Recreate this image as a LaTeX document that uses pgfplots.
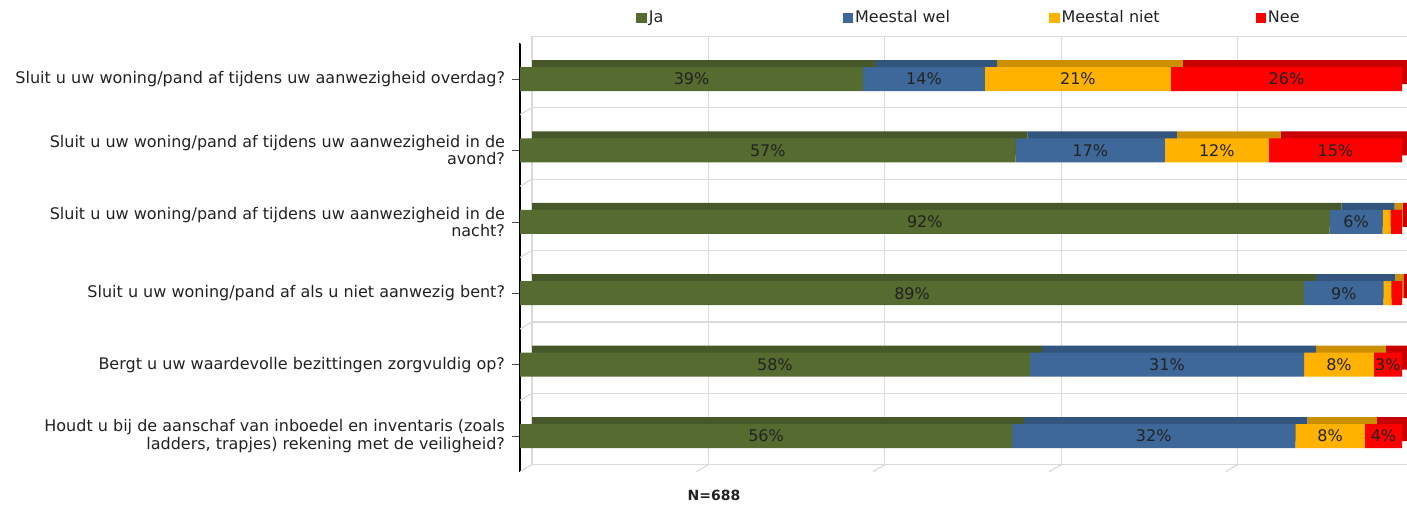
\documentclass[border=0pt]{standalone}
\usepackage{fontspec}
\setmainfont{DejaVu Sans}
\usepackage{pgfplots}
\pgfplotsset{compat=1.18}

\definecolor{cJa}{HTML}{566B2F}
\definecolor{cJaT}{HTML}{46572A}
\definecolor{cWel}{HTML}{3E6899}
\definecolor{cWelT}{HTML}{32557E}
\definecolor{cNiet}{HTML}{FFB300}
\definecolor{cNietT}{HTML}{CC8F00}
\definecolor{cNee}{HTML}{FF0000}
\definecolor{cNeeT}{HTML}{C80000}
\definecolor{gridc}{HTML}{DADADA}
\definecolor{txt}{HTML}{222222}

\newcommand\lgd[1]{\makebox[96pt][l]{#1}}
\newcommand\lblfont{\fontsize{8}{8.6}\selectfont}

\begin{document}
\begin{tikzpicture}
\useasboundingbox (0,0) rectangle (703.5pt,252pt);
\clip (0,0) rectangle (703.5pt,252pt);

% back wall + bar depth (shifted)
\begin{axis}[
    at={(266pt,19.65pt)}, anchor=south west,
    scale only axis, width=441pt, height=214.2pt,
    xbar stacked, bar width=12pt,
    xmin=0, xmax=100, ymin=-0.5, ymax=5.5, y dir=reverse,
    xtick={0,20,...,100}, ytick={-0.5,0.5,...,5.5},
    xticklabels={}, yticklabels={},
    major tick length=0pt,
    grid=major, grid style={gridc, line width=0.6pt},
    axis line style={draw=none},
]
\addplot[fill=cJaT, draw=none] coordinates {(38.9,0) (56.2,1) (91.8,2) (88.9,3) (57.8,4) (55.8,5)};
\addplot[fill=cWelT, draw=none] coordinates {(13.8,0) (16.9,1) (6.0,2) (9.0,3) (31.1,4) (32.1,5)};
\addplot[fill=cNietT, draw=none] coordinates {(21.1,0) (11.8,1) (0.9,2) (0.9,3) (7.9,4) (7.9,5)};
\addplot[fill=cNeeT, draw=none] coordinates {(26.2,0) (15.1,1) (1.3,2) (1.2,3) (3.2,4) (4.2,5)};
\end{axis}

% front
\begin{axis}[
    at={(260pt,16.15pt)}, anchor=south west,
    scale only axis, width=441pt, height=214.2pt,
    xbar stacked, bar width=12pt,
    xmin=0, xmax=100, ymin=-0.5, ymax=5.5, y dir=reverse,
    axis x line=none, axis y line*=left,
    y axis line style={black, line width=0.8pt, -},
    ytick={0,...,5},
    yticklabels={
      {Sluit u uw woning/pand af tijdens uw aanwezigheid overdag?},
      {Sluit u uw woning/pand af tijdens uw aanwezigheid in de\\avond?},
      {Sluit u uw woning/pand af tijdens uw aanwezigheid in de\\nacht?},
      {Sluit u uw woning/pand af als u niet aanwezig bent?},
      {Bergt u uw waardevolle bezittingen zorgvuldig op?},
      {Houdt u bij de aanschaf van inboedel en inventaris (zoals\\ladders, trapjes) rekening met de veiligheid?}},
    yticklabel style={align=right, font=\lblfont, text=txt},
    tick align=outside, major tick length=4pt,
    ytick style={black!70},
    point meta=explicit symbolic,
    nodes near coords,
    every node near coord/.append style={font=\lblfont, text=txt},
    legend style={at={(rel axis cs:0.1315,1)}, anchor=west, yshift=12.65pt,
      draw=none, fill=none, legend columns=4, font=\lblfont, text=txt,
      inner sep=0pt, nodes={inner sep=1pt}, column sep=0pt},
    legend cell align=left,
    legend image code/.code={\fill[#1,draw=none] (0pt,-2.6pt) rectangle (5.2pt,2.6pt);},
]
\addplot[fill=cJa, draw=none] coordinates {(38.9,0)[39\%] (56.2,1)[57\%] (91.8,2)[92\%] (88.9,3)[89\%] (57.8,4)[58\%] (55.8,5)[56\%]};
\addlegendentry{\lgd{Ja}}
\addplot[fill=cWel, draw=none] coordinates {(13.8,0)[14\%] (16.9,1)[17\%] (6.0,2)[6\%] (9.0,3)[9\%] (31.1,4)[31\%] (32.1,5)[32\%]};
\addlegendentry{\lgd{Meestal wel}}
\addplot[fill=cNiet, draw=none] coordinates {(21.1,0)[21\%] (11.8,1)[12\%] (0.9,2)[{}] (0.9,3)[{}] (7.9,4)[8\%] (7.9,5)[8\%]};
\addlegendentry{\lgd{Meestal niet}}
\addplot[fill=cNee, draw=none] coordinates {(26.2,0)[26\%] (15.1,1)[15\%] (1.3,2)[{}] (1.2,3)[{}] (3.2,4)[3\%] (4.2,5)[4\%]};
\addlegendentry{\lgd{Nee}}
\pgfplotsinvokeforeach{-0.5,0.5,1.5,2.5,3.5,4.5}{
  \draw[gridc, line width=0.6pt] (axis cs:0,#1) -- ++(6pt,3.5pt);
}
\pgfplotsinvokeforeach{0,20,40,60,80}{
  \draw[gridc, line width=0.6pt] (axis cs:#1,5.5) -- ++(6pt,3.5pt);
}
\end{axis}

\node[font=\fontsize{7}{8}\selectfont\bfseries, text=txt] at (357pt,4.5pt) {N=688};
\end{tikzpicture}
\end{document}
